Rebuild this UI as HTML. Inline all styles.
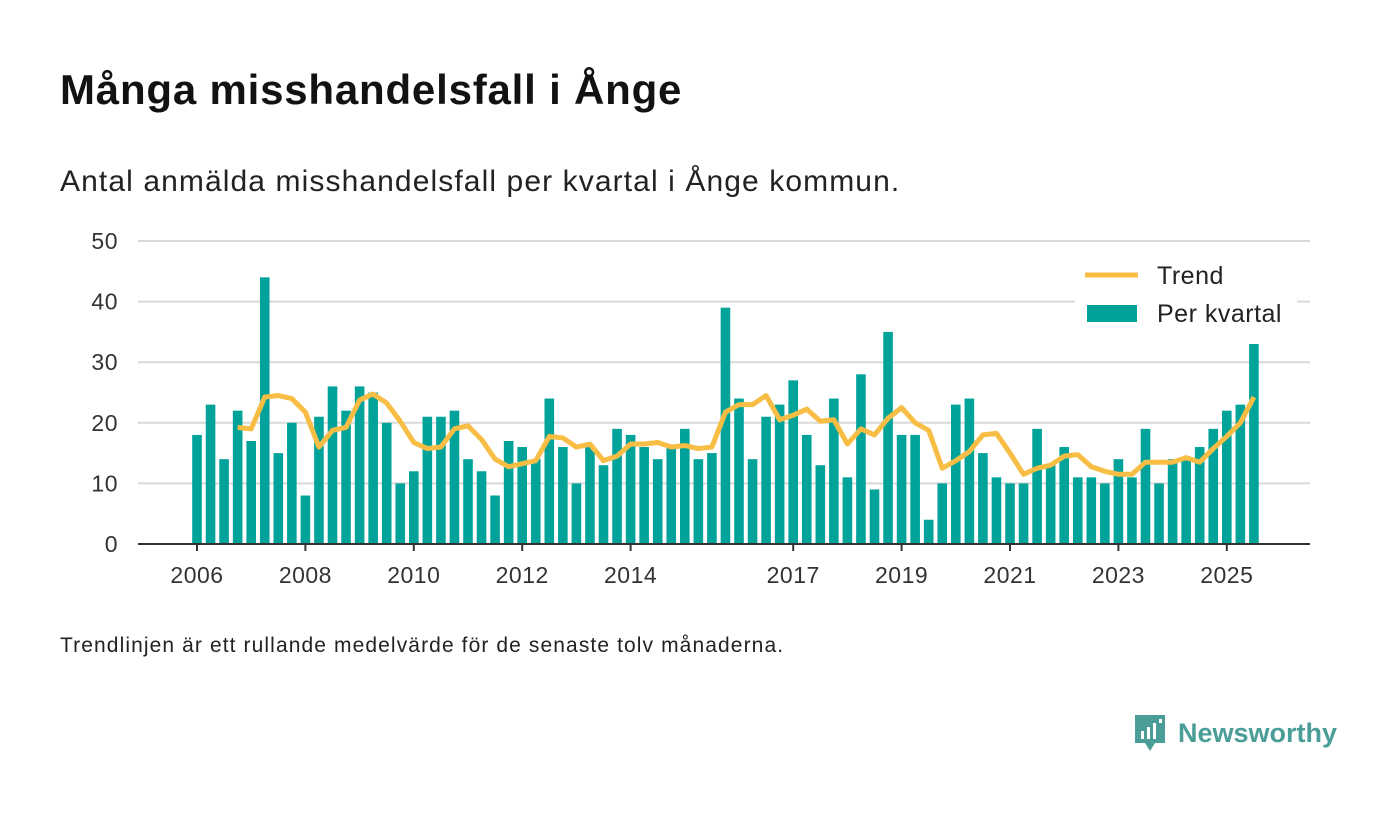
<!DOCTYPE html>
<html><head><meta charset="utf-8">
<style>
body{margin:0;width:1400px;height:813px;background:#fff;font-family:"Liberation Sans",sans-serif;color:#111;position:relative;overflow:hidden}
.t{position:absolute;white-space:nowrap}
</style></head>
<body>
<div class="t" style="left:60px;top:66px;font-size:42px;font-weight:bold;color:#121212;letter-spacing:0.8px">Många misshandelsfall i Ånge</div>
<div class="t" style="left:60px;top:165px;font-size:30px;color:#222;letter-spacing:1.1px">Antal anmälda misshandelsfall per kvartal i Ånge kommun.</div>
<svg id="chart" width="1400" height="813" style="position:absolute;left:0;top:0"></svg>
<div class="t" style="left:60px;top:634px;font-size:21px;color:#222;letter-spacing:1.1px">Trendlinjen är ett rullande medelvärde för de senaste tolv månaderna.</div>
<div style="position:absolute;left:1133px;top:713px;display:flex;align-items:center">
<svg width="34" height="40"><path d="M2 2h30v28h-10l-5 8-5-8H2z" fill="#4a9e97"/><rect x="8" y="18" width="3" height="8" fill="#fff"/><rect x="14" y="14" width="3" height="12" fill="#fff"/><rect x="20" y="10" width="3" height="16" fill="#fff"/><rect x="26" y="6" width="3" height="4" fill="#fff"/></svg>
<span style="font-size:27px;font-weight:bold;color:#4a9e97;margin-left:11px">Newsworthy</span>
</div>
<script>
const values=[18,23,14,22,17,44,15,20,8,21,26,22,26,25,20,10,12,21,21,22,14,12,8,17,16,14,24,16,10,16,13,19,18,16,14,16,19,14,15,39,24,14,21,23,27,18,13,24,11,28,9,35,18,18,4,10,23,24,15,11,10,10,19,13,16,11,11,10,14,11,19,10,14,14,16,19,22,23,33];
const yTicks=[0,10,20,30,40,50];
const xTickYears=[2006,2008,2010,2012,2014,2017,2019,2021,2023,2025];
const startYear=2006;
const svg=document.getElementById('chart');
const NS='http://www.w3.org/2000/svg';
const x0=197,perQ=13.55,y0=544,yTop=241,left=138,right=1310;
const xS=i=>x0+i*perQ;
const yS=v=>y0-(v/50)*(y0-yTop);
function mk(t,a){const e=document.createElementNS(NS,t);for(const k in a)e.setAttribute(k,a[k]);svg.appendChild(e);return e;}
yTicks.forEach(v=>{
 if(v>0){const g=mk('line',{x1:left,x2:right,y1:yS(v),y2:yS(v),stroke:'#d9d9d9','stroke-width':2});
 
 }
 const t=mk('text',{x:118,y:yS(v)+8,'text-anchor':'end','font-size':23,fill:'#333','font-family':'Liberation Sans, sans-serif','letter-spacing':0.5});
 t.textContent=v;
 
 
});
values.forEach((v,i)=>{
 const r=mk('rect',{x:xS(i)-4.8,y:yS(v),width:9.6,height:y0-yS(v),fill:'#00a399'});
 
 
});
const trend=[];
for(let i=3;i<values.length;i++){trend.push([i,(values[i]+values[i-1]+values[i-2]+values[i-3])/4]);}
const p=mk('polyline',{points:trend.map(([i,v])=>xS(i)+','+yS(v)).join(' '),fill:'none',stroke:'#f8bd45','stroke-width':5,'stroke-linejoin':'round'});


const ax=mk('line',{x1:left,x2:right,y1:y0,y2:y0,stroke:'#333','stroke-width':2});


xTickYears.forEach(yr=>{
 const x=xS((yr-startYear)*4);
 const tk=mk('line',{x1:x,x2:x,y1:y0,y2:y0+7,stroke:'#333','stroke-width':2});
 
 
 const t=mk('text',{x:x,y:583,'text-anchor':'middle','font-size':23,fill:'#333','font-family':'Liberation Sans, sans-serif','letter-spacing':0.5});
 t.textContent=yr;
 
 
});
const lg=mk('rect',{x:1075,y:256,width:222,height:76,fill:'#fff'});


const l1=mk('line',{x1:1085,x2:1138,y1:275,y2:275,stroke:'#f8bd45','stroke-width':5});


const t1=mk('text',{x:1157,y:284,'font-size':25,fill:'#222','font-family':'Liberation Sans, sans-serif','letter-spacing':0.5});
t1.textContent='Trend';


const l2=mk('rect',{x:1087,y:305,width:50,height:17,fill:'#00a399'});


const t2=mk('text',{x:1157,y:322,'font-size':25,fill:'#222','font-family':'Liberation Sans, sans-serif','letter-spacing':0.5});
t2.textContent='Per kvartal';


</script>
</body></html>
